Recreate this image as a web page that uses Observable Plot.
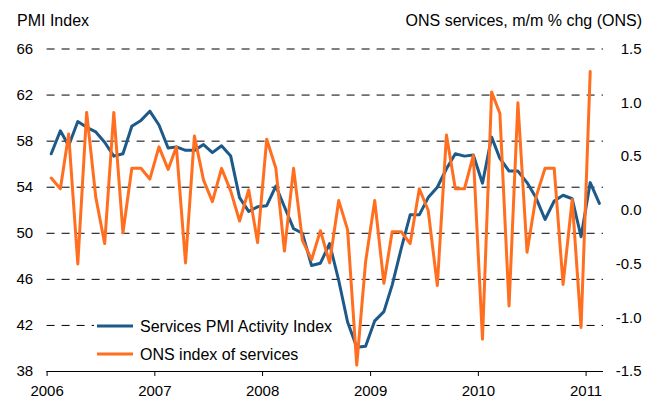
<!DOCTYPE html>
<html><head><meta charset="utf-8">
<script src="https://cdn.jsdelivr.net/npm/d3@7"></script>
<script src="https://cdn.jsdelivr.net/npm/@observablehq/plot@0.6"></script>
<style>body{margin:0;background:#fff;} svg{font-family:"Liberation Sans",Arial,sans-serif;}</style>
</head><body><div id="chart"></div>
<script>
const months = [
 "2006-01","2006-02","2006-03","2006-04","2006-05","2006-06","2006-07","2006-08","2006-09","2006-10","2006-11","2006-12",
 "2007-01","2007-02","2007-03","2007-04","2007-05","2007-06","2007-07","2007-08","2007-09","2007-10","2007-11","2007-12",
 "2008-01","2008-02","2008-03","2008-04","2008-05","2008-06","2008-07","2008-08","2008-09","2008-10","2008-11","2008-12",
 "2009-01","2009-02","2009-03","2009-04","2009-05","2009-06","2009-07","2009-08","2009-09","2009-10","2009-11","2009-12",
 "2010-01","2010-02","2010-03","2010-04","2010-05","2010-06","2010-07","2010-08","2010-09","2010-10","2010-11","2010-12",
 "2011-01","2011-02"
];
const pmi = [
 56.9, 58.9, 57.6, 59.7, 59.2, 58.8, 57.9, 56.7, 56.9, 59.3, 59.8, 60.6,
 59.4, 57.4, 57.5, 57.2, 57.2, 57.7, 57.0, 57.6, 56.7, 53.1, 51.9, 52.3,
 52.4, 54.1, 52.3, 50.4, 50.0, 47.2, 47.4, 49.1, 45.9, 42.3, 40.1, 40.2,
 42.4, 43.2, 45.5, 48.7, 51.6, 51.6, 53.1, 54.0, 55.6, 56.9, 56.7, 56.8,
 54.35, 58.35, 56.5, 55.4, 55.4, 54.4, 53.1, 51.2, 52.8, 53.3, 53.0, 49.7,
 54.4, 52.6
];
const ons = [
 0.30, 0.20, 0.71, -0.50, 0.91, 0.12, -0.31, 0.91, -0.21, 0.39, 0.39, 0.29,
 0.59, 0.38, 0.59, -0.49, 0.69, 0.28, 0.08, 0.39, 0.18, -0.10, 0.19, -0.30,
 0.66, 0.39, -0.38, 0.39, -0.28, -0.46, -0.19, -0.49, 0.09, -0.18, -1.44, -0.48,
 0.09, -0.68, -0.20, -0.20, -0.31, 0.20, 0.00, -0.70, 0.70, 0.20, 0.20, 0.51,
 -1.20, 1.10, 0.90, -0.89, 1.00, -0.39, 0.12, 0.39, 0.39, -0.69, 0.10, -1.09,
 1.29
];
const pmiTicks = [38, 42, 46, 50, 54, 58, 62, 66];
const onsTicks = [-1.5, -1.0, -0.5, 0.0, 0.5, 1.0, 1.5];
const yearTicks = [2006, 2007, 2008, 2009, 2010, 2011];
const seriesNames = ["Services PMI Activity Index", "ONS index of services"];
const colors = ["#1d5a8a", "#ff6f1f"];

const toPMI = v => 52 + v * 28 / 3;
const parse = s => new Date(Date.UTC(+s.slice(0, 4), +s.slice(5, 7) - 1, 15));
const pmiData = pmi.map((v, i) => ({date: parse(months[i]), value: v}));
const onsData = ons.map((v, i) => ({date: parse(months[i]), value: v}));

const chart = Plot.plot({
  width: 660, height: 403,
  marginTop: 48.5, marginBottom: 32, marginLeft: 46.6, marginRight: 57,
  style: {fontFamily: '"Liberation Sans", Arial, sans-serif', fontSize: "15px", background: "white", color: "#000"},
  x: {type: "utc", domain: [new Date(Date.UTC(2006, 0, 1)), new Date(Date.UTC(2011, 2, 1))]},
  y: {domain: [38, 66]},
  marks: [
    Plot.gridY(pmiTicks, {stroke: "#000", strokeOpacity: 1, strokeDasharray: "8,7"}),
    Plot.ruleY([38], {stroke: "#000", strokeWidth: 1}),
    Plot.axisY(pmiTicks, {tickSize: 0, tickPadding: 14, fontSize: 15, label: null}),
    Plot.text(onsTicks, {y: d => toPMI(d), text: d => d.toFixed(1), frameAnchor: "right", textAnchor: "end", dx: 38, fontSize: 15}),
    Plot.axisX(yearTicks.map(y => new Date(Date.UTC(y, 0, 1))), {tickSize: 5, tickPadding: 9, tickFormat: "%Y", label: null, fontSize: 15}),
    Plot.line(pmiData, {x: "date", y: "value", stroke: colors[0], strokeWidth: 3}),
    Plot.line(onsData, {x: "date", y: d => toPMI(d.value), stroke: colors[1], strokeWidth: 3})
  ]
});

const svg = d3.select(chart);
svg.append("text").attr("x", 17).attr("y", 26).attr("text-anchor", "start").attr("font-size", 16).attr("fill", "#000").text("PMI Index");
svg.append("text").attr("x", 642).attr("y", 26).attr("text-anchor", "end").attr("font-size", 16).attr("fill", "#000").text("ONS services, m/m % chg (ONS)");
// legend background sits beneath the data lines
svg.insert("rect", '[aria-label="line"]').attr("x", 94).attr("y", 314).attr("width", 256).attr("height", 24).attr("fill", "white");
const lg = svg.append("g");
seriesNames.forEach((name, i) => {
  const yy = 326 + i * 28;
  lg.append("line").attr("x1", 97).attr("x2", 133).attr("y1", yy).attr("y2", yy).attr("stroke", colors[i]).attr("stroke-width", 3);
  lg.append("text").attr("x", 140).attr("y", yy).attr("dy", "0.35em").attr("text-anchor", "start").attr("font-size", 16).attr("fill", "#000").text(name);
});
document.getElementById("chart").appendChild(chart);
</script>
</body></html>
